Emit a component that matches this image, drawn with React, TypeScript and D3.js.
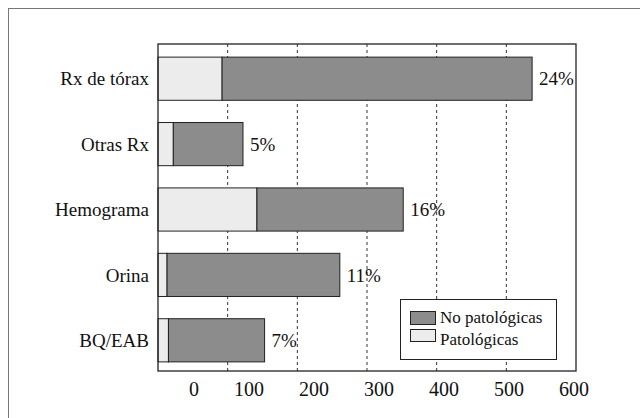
import React from "react";
import * as d3 from "d3";

const categories = ["Rx de tórax", "Otras Rx", "Hemograma", "Orina", "BQ/EAB"];
const patologicas = [92, 22, 142, 13, 15];
const noPatologicas = [445, 100, 210, 248, 138];
const percentLabels = ["24%", "5%", "16%", "11%", "7%"];
const tickValues = [0, 100, 200, 300, 400, 500, 600];
const gridValues = [100, 200, 300, 400, 500];

const W = 640;
const H = 418;
const left = 158;
const right = 576;
const top = 44;
const bottom = 371;
const tf: React.CSSProperties = { fontFamily: '"Liberation Serif", "DejaVu Serif", serif' };

export default function App() {
  const x = d3.scaleLinear().domain([0, 600]).range([left, right]);
  const xLabel = d3.scaleLinear().domain([0, 600]).range([199, 589]);
  const y = d3
    .scaleBand<string>()
    .domain(categories)
    .range([top + 2, bottom + 2])
    .paddingInner(0.34)
    .paddingOuter(0.17);
  const bw = y.bandwidth();

  return (
    <svg
      width={W}
      height={H}
      style={{ position: "absolute", left: 0, top: 0, background: "#fff" }}
    >
      <rect x={8.5} y={8.5} width={700} height={600} fill="#fff" stroke="#777" strokeWidth={1} />
      <rect x={left} y={top} width={right - left} height={bottom - top} fill="#fff" />
      {gridValues.map((v) => (
        <line
          key={v}
          x1={x(v)}
          x2={x(v)}
          y1={top}
          y2={bottom}
          stroke="#333"
          strokeWidth={1}
          strokeDasharray="3,3"
        />
      ))}
      {categories.map((c, i) => {
        const y0 = y(c)!;
        const total = patologicas[i] + noPatologicas[i];
        return (
          <g key={c}>
            <rect
              x={x(0)}
              y={y0}
              width={x(patologicas[i]) - x(0)}
              height={bw}
              fill="#ececec"
              stroke="#222"
              strokeWidth={1}
            />
            <rect
              x={x(patologicas[i])}
              y={y0}
              width={x(total) - x(patologicas[i])}
              height={bw}
              fill="#8c8c8c"
              stroke="#222"
              strokeWidth={1}
            />
            <text
              x={x(total) + 7}
              y={y0 + bw / 2}
              dy="0.35em"
              fontSize={19}
              fill="#111"
              style={tf}
            >
              {percentLabels[i]}
            </text>
            <text
              x={149}
              y={y0 + bw / 2}
              dy="0.35em"
              fontSize={19}
              textAnchor="end"
              fill="#111"
              style={tf}
            >
              {c}
            </text>
          </g>
        );
      })}
      <rect
        x={left}
        y={top}
        width={right - left}
        height={bottom - top}
        fill="none"
        stroke="#222"
        strokeWidth={1.3}
      />
      {tickValues.map((v) => (
        <text key={v} x={xLabel(v)} y={396} fontSize={20} textAnchor="end" fill="#111" style={tf}>
          {v}
        </text>
      ))}
      <g>
        <rect x={400.5} y={299.5} width={156} height={60} fill="#fff" stroke="#222" strokeWidth={1} />
        <rect x={410.5} y={311.5} width={25} height={13} fill="#8c8c8c" stroke="#222" strokeWidth={1} />
        <rect x={410.5} y={329.5} width={25} height={12} fill="#ececec" stroke="#222" strokeWidth={1} />
        <text x={440} y={323} fontSize={17} fill="#111" style={tf}>No patológicas</text>
        <text x={440} y={345} fontSize={17} fill="#111" style={tf}>Patológicas</text>
      </g>
    </svg>
  );
}
